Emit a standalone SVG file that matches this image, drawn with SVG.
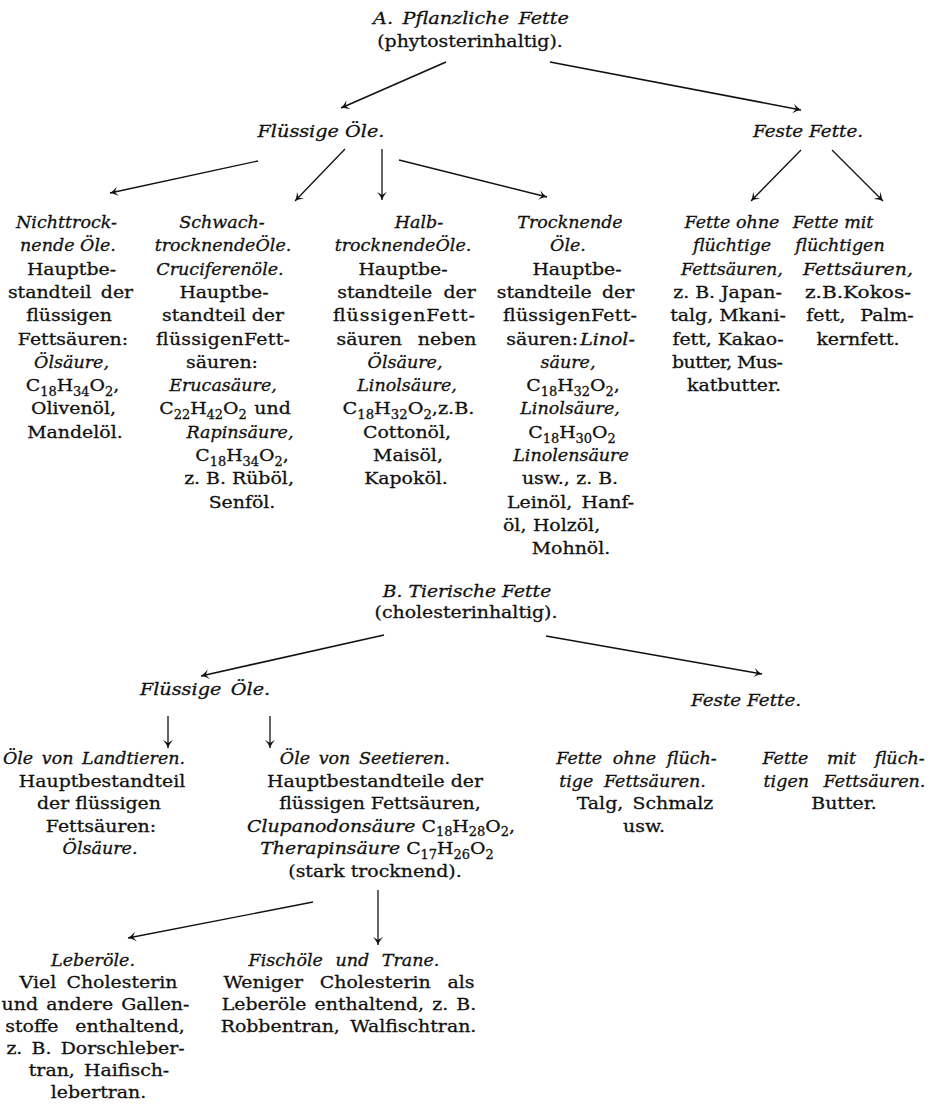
<svg xmlns="http://www.w3.org/2000/svg" width="933" height="1112" viewBox="0 0 933 1112">
<style>
.t{font-family:"DejaVu Serif","Liberation Serif",serif;font-size:17.5px;fill:#111;stroke:#111;stroke-width:0.3;text-anchor:middle}
.i{font-style:italic}
.l{text-anchor:start}
.s{font-size:12px;font-style:normal}
.c{stroke:#111;stroke-width:1.3;fill:none;marker-end:url(#ah)}
.c2{stroke-width:1.6}
</style>
<defs>
<marker id="ah" markerUnits="userSpaceOnUse" orient="auto" refX="0" refY="0" markerWidth="12" markerHeight="12" overflow="visible">
<path d="M0,0 C-3,-1 -6,-3 -8,-5 C-6.5,-2 -5.5,-1 -5,0 C-5.5,1 -6.5,2 -8,5 C-6,3 -3,1 0,0 Z" fill="#111"/>
</marker>
</defs>
<rect width="933" height="1112" fill="#fff"/>

<g id="connectors">
<line class="c c2" x1="446" y1="62" x2="341" y2="108"/>
<line class="c c2" x1="550" y1="62" x2="801" y2="110"/>
<line class="c" x1="258" y1="161" x2="110" y2="193"/>
<line class="c" x1="345" y1="149" x2="295" y2="201"/>
<line class="c" x1="382" y1="149" x2="382" y2="200"/>
<line class="c" x1="399" y1="160" x2="547" y2="197"/>
<line class="c" x1="801" y1="150" x2="751" y2="201"/>
<line class="c" x1="832" y1="150" x2="883" y2="201"/>
<line class="c c2" x1="384" y1="635" x2="201" y2="676"/>
<line class="c c2" x1="546" y1="636" x2="762" y2="674"/>
<line class="c" x1="168" y1="716" x2="168" y2="748"/>
<line class="c" x1="270" y1="716" x2="270" y2="748"/>
<line class="c" x1="313" y1="902" x2="128" y2="938"/>
<line class="c" x1="378" y1="890" x2="378" y2="945"/>
</g>

<g id="pflanzliche">
<text class="t i" transform="translate(471,24) scale(1.1,1)" word-spacing="3">A. Pflanzliche Fette</text>
<text class="t" transform="translate(470,47) scale(1.08,1)">(phytosterinhaltig).</text>
</g>
<g id="a-fluessig"><text class="t i" transform="translate(321,137) scale(1.1,1)">Flüssige Öle.</text></g>
<g id="a-fest"><text class="t i" transform="translate(808,137) scale(1.05,1)">Feste Fette.</text></g>

<g id="nichttrocknende">
<text class="t i" x="66.5" y="228">Nichttrock-</text>
<text class="t i" x="68" y="251">nende Öle.</text>
<text class="t" transform="translate(71.5,275) scale(1.08,1)">Hauptbe-</text>
<text class="t" transform="translate(70.5,298) scale(1.08,1)" word-spacing="3">standteil der</text>
<text class="t" transform="translate(69,321) scale(1.08,1)">flüssigen</text>
<text class="t" transform="translate(73,345) scale(1.08,1)">Fettsäuren:</text>
<text class="t i" x="71.5" y="368">Ölsäure,</text>
<text class="t" transform="translate(72.5,391) scale(1.08,1)">C<tspan class="s" dy="4.5">18</tspan><tspan dy="-4.5">H</tspan><tspan class="s" dy="4.5">34</tspan><tspan dy="-4.5">O</tspan><tspan class="s" dy="4.5">2</tspan><tspan dy="-4.5">,</tspan></text>
<text class="t" transform="translate(73.5,414) scale(1.08,1)">Olivenöl,</text>
<text class="t" transform="translate(75,438) scale(1.08,1)">Mandelöl.</text>
</g>

<g id="schwachtrocknende">
<text class="t i" x="222" y="228">Schwach-</text>
<text class="t i" x="223" y="251">trocknendeÖle.</text>
<text class="t i" x="220" y="275">Cruciferenöle.</text>
<text class="t" transform="translate(224,298) scale(1.08,1)">Hauptbe-</text>
<text class="t" transform="translate(223,321) scale(1.08,1)">standteil der</text>
<text class="t" transform="translate(223,345) scale(1.08,1)" textLength="124.1" lengthAdjust="spacing">flüssigenFett-</text>
<text class="t" transform="translate(222,368) scale(1.08,1)">säuren:</text>
<text class="t i" x="223" y="391">Erucasäure,</text>
<text class="t" transform="translate(225,414) scale(1.08,1)">C<tspan class="s" dy="4.5">22</tspan><tspan dy="-4.5">H</tspan><tspan class="s" dy="4.5">42</tspan><tspan dy="-4.5">O</tspan><tspan class="s" dy="4.5">2</tspan><tspan dy="-4.5" dx="7">und</tspan></text>
<text class="t i" x="240" y="438">Rapinsäure,</text>
<text class="t" transform="translate(242,461) scale(1.08,1)">C<tspan class="s" dy="4.5">18</tspan><tspan dy="-4.5">H</tspan><tspan class="s" dy="4.5">34</tspan><tspan dy="-4.5">O</tspan><tspan class="s" dy="4.5">2</tspan><tspan dy="-4.5">,</tspan></text>
<text class="t" transform="translate(239,484) scale(1.08,1)">z. B. Rüböl,</text>
<text class="t" transform="translate(242,508) scale(1.08,1)">Senföl.</text>
</g>

<g id="halbtrocknende">
<text class="t i" x="419" y="228">Halb-</text>
<text class="t i" x="403" y="251">trocknendeÖle.</text>
<text class="t" transform="translate(403,275) scale(1.08,1)">Hauptbe-</text>
<text class="t" transform="translate(406.5,298) scale(1.08,1)" word-spacing="5">standteile der</text>
<text class="t" transform="translate(404,321) scale(1.08,1)" textLength="131.5" lengthAdjust="spacing">flüssigenFett-</text>
<text class="t" transform="translate(406.5,345) scale(1.08,1)" word-spacing="9">säuren neben</text>
<text class="t i" x="405" y="368">Ölsäure,</text>
<text class="t i" x="407" y="391">Linolsäure,</text>
<text class="t" transform="translate(408.5,414) scale(1.1,1)">C<tspan class="s" dy="4.5">18</tspan><tspan dy="-4.5">H</tspan><tspan class="s" dy="4.5">32</tspan><tspan dy="-4.5">O</tspan><tspan class="s" dy="4.5">2</tspan><tspan dy="-4.5">,z.B.</tspan></text>
<text class="t" transform="translate(407,438) scale(1.08,1)">Cottonöl,</text>
<text class="t" transform="translate(408,461) scale(1.08,1)">Maisöl,</text>
<text class="t" transform="translate(406,484) scale(1.08,1)">Kapoköl.</text>
</g>

<g id="trocknende">
<text class="t i" x="570" y="228">Trocknende</text>
<text class="t i" x="568" y="251">Öle.</text>
<text class="t" transform="translate(577,275) scale(1.08,1)">Hauptbe-</text>
<text class="t" transform="translate(565.5,298) scale(1.08,1)" word-spacing="4">standteile der</text>
<text class="t" transform="translate(570,321) scale(1.08,1)" textLength="124.1" lengthAdjust="spacing">flüssigenFett-</text>
<text class="t" transform="translate(570.5,345) scale(1.08,1)">säuren:<tspan class="i" dx="2">Linol-</tspan></text>
<text class="t i" x="568" y="368">säure,</text>
<text class="t" transform="translate(573,391) scale(1.08,1)">C<tspan class="s" dy="4.5">18</tspan><tspan dy="-4.5">H</tspan><tspan class="s" dy="4.5">32</tspan><tspan dy="-4.5">O</tspan><tspan class="s" dy="4.5">2</tspan><tspan dy="-4.5">,</tspan></text>
<text class="t i" x="570" y="414">Linolsäure,</text>
<text class="t" transform="translate(572,438) scale(1.08,1)">C<tspan class="s" dy="4.5">18</tspan><tspan dy="-4.5">H</tspan><tspan class="s" dy="4.5">30</tspan><tspan dy="-4.5">O</tspan><tspan class="s" dy="4.5">2</tspan></text>
<text class="t i" x="571" y="461">Linolensäure</text>
<text class="t" transform="translate(570,484) scale(1.08,1)">usw.,<tspan dx="6">z. B.</tspan></text>
<text class="t" transform="translate(570.5,508) scale(1.08,1)" word-spacing="3">Leinöl, Hanf-</text>
<text class="t l" transform="translate(503,531) scale(1.08,1)">öl,<tspan dx="6">Holzöl,</tspan></text>
<text class="t" transform="translate(571,554) scale(1.08,1)">Mohnöl.</text>
</g>

<g id="a-fette-ohne">
<text class="t i" x="732" y="228">Fette ohne</text>
<text class="t i" x="732" y="251">flüchtige</text>
<text class="t i" x="732" y="275">Fettsäuren,</text>
<text class="t" transform="translate(727.5,298) scale(1.08,1)">z. B. Japan-</text>
<text class="t" transform="translate(728,321) scale(1.08,1)">talg, Mkani-</text>
<text class="t" transform="translate(728,345) scale(1.08,1)">fett, Kakao-</text>
<text class="t" transform="translate(727.5,368) scale(1.08,1)" textLength="102.8" lengthAdjust="spacing">butter, Mus-</text>
<text class="t" transform="translate(734,391) scale(1.08,1)">katbutter.</text>
</g>

<g id="a-fette-mit">
<text class="t i" x="833" y="228">Fette mit</text>
<text class="t i" x="840" y="251">flüchtigen</text>
<text class="t i" transform="translate(858,275) scale(1.08,1)">Fettsäuren,</text>
<text class="t" transform="translate(858,298) scale(1.15,1)">z.B.Kokos-</text>
<text class="t" transform="translate(860,321) scale(1.08,1)" word-spacing="8">fett, Palm-</text>
<text class="t" transform="translate(858,345) scale(1.08,1)">kernfett.</text>
</g>

<g id="tierische">
<text class="t i" transform="translate(467,597) scale(1.07,1)">B. Tierische Fette</text>
<text class="t" transform="translate(466,618) scale(1.08,1)">(cholesterinhaltig).</text>
</g>
<g id="b-fluessig"><text class="t i" transform="translate(205,695) scale(1.1,1)" word-spacing="3">Flüssige Öle.</text></g>
<g id="b-fest"><text class="t i" transform="translate(746,706) scale(1.05,1)">Feste Fette.</text></g>

<g id="landtiere">
<text class="t i" x="94" y="764" word-spacing="3">Öle von Landtieren.</text>
<text class="t" transform="translate(102,786.5) scale(1.08,1)">Hauptbestandteil</text>
<text class="t" transform="translate(99,809) scale(1.08,1)">der flüssigen</text>
<text class="t" transform="translate(101,831.5) scale(1.08,1)">Fettsäuren:</text>
<text class="t i" x="100" y="854">Ölsäure.</text>
</g>

<g id="seetiere">
<text class="t i" x="365" y="764" word-spacing="3">Öle von Seetieren.</text>
<text class="t" transform="translate(375,786.5) scale(1.08,1)">Hauptbestandteile der</text>
<text class="t" transform="translate(380,809) scale(1.08,1)">flüssigen Fettsäuren,</text>
<text class="t" transform="translate(381,831.5) scale(1.08,1)"><tspan class="i">Clupanodonsäure</tspan> C<tspan class="s" dy="4.5">18</tspan><tspan dy="-4.5">H</tspan><tspan class="s" dy="4.5">28</tspan><tspan dy="-4.5">O</tspan><tspan class="s" dy="4.5">2</tspan><tspan dy="-4.5">,</tspan></text>
<text class="t" transform="translate(377,854) scale(1.08,1)"><tspan class="i">Therapinsäure</tspan> C<tspan class="s" dy="4.5">17</tspan><tspan dy="-4.5">H</tspan><tspan class="s" dy="4.5">26</tspan><tspan dy="-4.5">O</tspan><tspan class="s" dy="4.5">2</tspan></text>
<text class="t" transform="translate(375,876.5) scale(1.08,1)">(stark trocknend).</text>
</g>

<g id="b-fette-ohne">
<text class="t i" x="636.5" y="764" word-spacing="5">Fette ohne flüch-</text>
<text class="t i" x="632.5" y="786.5" word-spacing="5">tige Fettsäuren.</text>
<text class="t" transform="translate(645,809) scale(1.08,1)" word-spacing="3">Talg, Schmalz</text>
<text class="t" transform="translate(644,831.5) scale(1.08,1)">usw.</text>
</g>

<g id="b-fette-mit">
<text class="t i" x="843.5" y="764" word-spacing="13">Fette mit flüch-</text>
<text class="t i" x="844.5" y="786.5" word-spacing="9">tigen Fettsäuren.</text>
<text class="t" transform="translate(844,809) scale(1.08,1)">Butter.</text>
</g>

<g id="leberoele">
<text class="t i" x="93" y="966">Leberöle.</text>
<text class="t" transform="translate(98.5,988) scale(1.08,1)" word-spacing="4">Viel Cholesterin</text>
<text class="t" transform="translate(95.5,1010) scale(1.08,1)" word-spacing="2">und andere Gallen-</text>
<text class="t" transform="translate(95,1032) scale(1.08,1)" word-spacing="10">stoffe enthaltend,</text>
<text class="t" transform="translate(95.5,1054) scale(1.08,1)" word-spacing="3">z. B. Dorschleber-</text>
<text class="t" transform="translate(99,1076) scale(1.08,1)" word-spacing="3">tran, Haifisch-</text>
<text class="t" transform="translate(98.5,1098) scale(1.08,1)">lebertran.</text>
</g>

<g id="fischoele">
<text class="t i" x="344" y="966" word-spacing="7">Fischöle und Trane.</text>
<text class="t" transform="translate(349,988) scale(1.08,1)" word-spacing="10">Weniger Cholesterin als</text>
<text class="t" transform="translate(349,1010) scale(1.08,1)" word-spacing="2">Leberöle enthaltend, z. B.</text>
<text class="t" transform="translate(348.5,1032) scale(1.08,1)" word-spacing="4">Robbentran, Walfischtran.</text>
</g>
</svg>
